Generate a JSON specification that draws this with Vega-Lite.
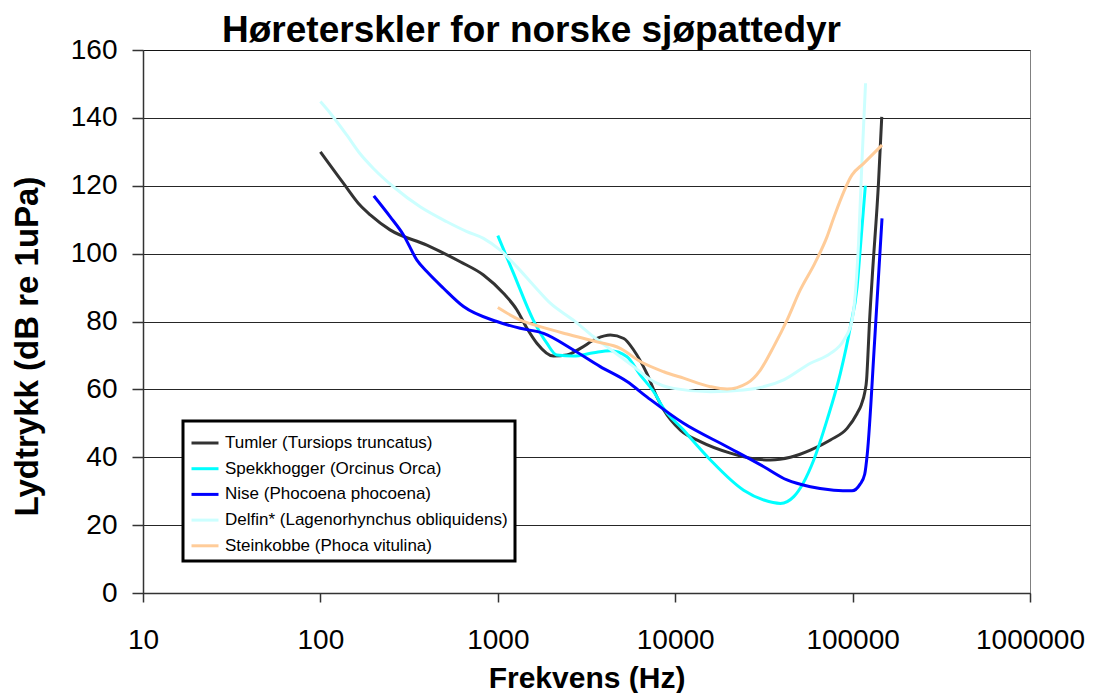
{
  "$schema": "https://vega.github.io/schema/vega-lite/v6.json",
  "width": 887,
  "height": 543,
  "autosize": {"type": "none"},
  "padding": {"left": 143, "top": 50, "right": 64, "bottom": 100},
  "background": "white",
  "title": {
    "text": "Høreterskler for norske sjøpattedyr",
    "font": "Liberation Sans",
    "fontSize": 37,
    "fontWeight": "bold",
    "color": "black",
    "anchor": "middle",
    "frame": "group",
    "dx": -55,
    "offset": -14
  },
  "data": {
    "values": [
      {"s": "Tumler (Tursiops truncatus)", "f": 100, "db": 130},
      {"s": "Tumler (Tursiops truncatus)", "f": 135, "db": 120.7},
      {"s": "Tumler (Tursiops truncatus)", "f": 167, "db": 114.3},
      {"s": "Tumler (Tursiops truncatus)", "f": 191, "db": 111.4},
      {"s": "Tumler (Tursiops truncatus)", "f": 247, "db": 107},
      {"s": "Tumler (Tursiops truncatus)", "f": 398, "db": 102.5},
      {"s": "Tumler (Tursiops truncatus)", "f": 614, "db": 97.6},
      {"s": "Tumler (Tursiops truncatus)", "f": 830, "db": 93.7},
      {"s": "Tumler (Tursiops truncatus)", "f": 1076, "db": 88.3},
      {"s": "Tumler (Tursiops truncatus)", "f": 1282, "db": 83.4},
      {"s": "Tumler (Tursiops truncatus)", "f": 1460, "db": 78},
      {"s": "Tumler (Tursiops truncatus)", "f": 1660, "db": 73.6},
      {"s": "Tumler (Tursiops truncatus)", "f": 2060, "db": 69.8},
      {"s": "Tumler (Tursiops truncatus)", "f": 2450, "db": 70.1},
      {"s": "Tumler (Tursiops truncatus)", "f": 2920, "db": 72.1},
      {"s": "Tumler (Tursiops truncatus)", "f": 3620, "db": 75},
      {"s": "Tumler (Tursiops truncatus)", "f": 4310, "db": 76},
      {"s": "Tumler (Tursiops truncatus)", "f": 5130, "db": 75},
      {"s": "Tumler (Tursiops truncatus)", "f": 5830, "db": 71.6},
      {"s": "Tumler (Tursiops truncatus)", "f": 6920, "db": 64.7},
      {"s": "Tumler (Tursiops truncatus)", "f": 7880, "db": 57.8},
      {"s": "Tumler (Tursiops truncatus)", "f": 8610, "db": 54},
      {"s": "Tumler (Tursiops truncatus)", "f": 10700, "db": 48},
      {"s": "Tumler (Tursiops truncatus)", "f": 13860, "db": 44.6},
      {"s": "Tumler (Tursiops truncatus)", "f": 20470, "db": 41.2},
      {"s": "Tumler (Tursiops truncatus)", "f": 26500, "db": 39.7},
      {"s": "Tumler (Tursiops truncatus)", "f": 34400, "db": 39.2},
      {"s": "Tumler (Tursiops truncatus)", "f": 44600, "db": 40},
      {"s": "Tumler (Tursiops truncatus)", "f": 57800, "db": 42.1},
      {"s": "Tumler (Tursiops truncatus)", "f": 75000, "db": 45.1},
      {"s": "Tumler (Tursiops truncatus)", "f": 93100, "db": 48.5},
      {"s": "Tumler (Tursiops truncatus)", "f": 106000, "db": 52.9},
      {"s": "Tumler (Tursiops truncatus)", "f": 112000, "db": 55.5},
      {"s": "Tumler (Tursiops truncatus)", "f": 117000, "db": 59},
      {"s": "Tumler (Tursiops truncatus)", "f": 120000, "db": 63},
      {"s": "Tumler (Tursiops truncatus)", "f": 122000, "db": 70},
      {"s": "Tumler (Tursiops truncatus)", "f": 124000, "db": 78},
      {"s": "Tumler (Tursiops truncatus)", "f": 129000, "db": 93},
      {"s": "Tumler (Tursiops truncatus)", "f": 140000, "db": 121},
      {"s": "Tumler (Tursiops truncatus)", "f": 146000, "db": 140.3},

      {"s": "Spekkhogger (Orcinus Orca)", "f": 1000, "db": 105.3},
      {"s": "Spekkhogger (Orcinus Orca)", "f": 1227, "db": 94.2},
      {"s": "Spekkhogger (Orcinus Orca)", "f": 1585, "db": 80.4},
      {"s": "Spekkhogger (Orcinus Orca)", "f": 1890, "db": 73.6},
      {"s": "Spekkhogger (Orcinus Orca)", "f": 2150, "db": 70.1},
      {"s": "Spekkhogger (Orcinus Orca)", "f": 2670, "db": 69.8},
      {"s": "Spekkhogger (Orcinus Orca)", "f": 3470, "db": 70.8},
      {"s": "Spekkhogger (Orcinus Orca)", "f": 4310, "db": 71.4},
      {"s": "Spekkhogger (Orcinus Orca)", "f": 5350, "db": 69.6},
      {"s": "Spekkhogger (Orcinus Orca)", "f": 6300, "db": 64.5},
      {"s": "Spekkhogger (Orcinus Orca)", "f": 7880, "db": 57.8},
      {"s": "Spekkhogger (Orcinus Orca)", "f": 8240, "db": 55.9},
      {"s": "Spekkhogger (Orcinus Orca)", "f": 11150, "db": 48},
      {"s": "Spekkhogger (Orcinus Orca)", "f": 15800, "db": 39.2},
      {"s": "Spekkhogger (Orcinus Orca)", "f": 24300, "db": 30.3},
      {"s": "Spekkhogger (Orcinus Orca)", "f": 31600, "db": 27.4},
      {"s": "Spekkhogger (Orcinus Orca)", "f": 39200, "db": 26.4},
      {"s": "Spekkhogger (Orcinus Orca)", "f": 46600, "db": 28.4},
      {"s": "Spekkhogger (Orcinus Orca)", "f": 60400, "db": 39.2},
      {"s": "Spekkhogger (Orcinus Orca)", "f": 71800, "db": 51},
      {"s": "Spekkhogger (Orcinus Orca)", "f": 85300, "db": 64.7},
      {"s": "Spekkhogger (Orcinus Orca)", "f": 97200, "db": 78.5},
      {"s": "Spekkhogger (Orcinus Orca)", "f": 106000, "db": 90.2},
      {"s": "Spekkhogger (Orcinus Orca)", "f": 110700, "db": 102},
      {"s": "Spekkhogger (Orcinus Orca)", "f": 118000, "db": 120},

      {"s": "Nise (Phocoena phocoena)", "f": 200, "db": 117},
      {"s": "Nise (Phocoena phocoena)", "f": 247, "db": 110.9},
      {"s": "Nise (Phocoena phocoena)", "f": 294, "db": 105.5},
      {"s": "Nise (Phocoena phocoena)", "f": 350, "db": 98.1},
      {"s": "Nise (Phocoena phocoena)", "f": 398, "db": 94.7},
      {"s": "Nise (Phocoena phocoena)", "f": 494, "db": 89.8},
      {"s": "Nise (Phocoena phocoena)", "f": 641, "db": 84.4},
      {"s": "Nise (Phocoena phocoena)", "f": 988, "db": 80},
      {"s": "Nise (Phocoena phocoena)", "f": 1337, "db": 78},
      {"s": "Nise (Phocoena phocoena)", "f": 1811, "db": 76.5},
      {"s": "Nise (Phocoena phocoena)", "f": 2670, "db": 71.6},
      {"s": "Nise (Phocoena phocoena)", "f": 3780, "db": 66.7},
      {"s": "Nise (Phocoena phocoena)", "f": 5350, "db": 62.3},
      {"s": "Nise (Phocoena phocoena)", "f": 6920, "db": 57.8},
      {"s": "Nise (Phocoena phocoena)", "f": 11150, "db": 50},
      {"s": "Nise (Phocoena phocoena)", "f": 19600, "db": 43.1},
      {"s": "Nise (Phocoena phocoena)", "f": 31600, "db": 37.2},
      {"s": "Nise (Phocoena phocoena)", "f": 42700, "db": 33.3},
      {"s": "Nise (Phocoena phocoena)", "f": 57800, "db": 31.3},
      {"s": "Nise (Phocoena phocoena)", "f": 78400, "db": 30.3},
      {"s": "Nise (Phocoena phocoena)", "f": 99300, "db": 30.1},
      {"s": "Nise (Phocoena phocoena)", "f": 110000, "db": 32},
      {"s": "Nise (Phocoena phocoena)", "f": 117000, "db": 35},
      {"s": "Nise (Phocoena phocoena)", "f": 121000, "db": 41},
      {"s": "Nise (Phocoena phocoena)", "f": 133000, "db": 74},
      {"s": "Nise (Phocoena phocoena)", "f": 146500, "db": 110.4},

      {"s": "Delfin* (Lagenorhynchus obliquidens)", "f": 100, "db": 144.8},
      {"s": "Delfin* (Lagenorhynchus obliquidens)", "f": 114, "db": 141.3},
      {"s": "Delfin* (Lagenorhynchus obliquidens)", "f": 141, "db": 134.9},
      {"s": "Delfin* (Lagenorhynchus obliquidens)", "f": 167, "db": 129.5},
      {"s": "Delfin* (Lagenorhynchus obliquidens)", "f": 199, "db": 125.1},
      {"s": "Delfin* (Lagenorhynchus obliquidens)", "f": 258, "db": 119.7},
      {"s": "Delfin* (Lagenorhynchus obliquidens)", "f": 365, "db": 113.8},
      {"s": "Delfin* (Lagenorhynchus obliquidens)", "f": 516, "db": 109.4},
      {"s": "Delfin* (Lagenorhynchus obliquidens)", "f": 670, "db": 106.5},
      {"s": "Delfin* (Lagenorhynchus obliquidens)", "f": 830, "db": 104.5},
      {"s": "Delfin* (Lagenorhynchus obliquidens)", "f": 1033, "db": 101},
      {"s": "Delfin* (Lagenorhynchus obliquidens)", "f": 1282, "db": 96.1},
      {"s": "Delfin* (Lagenorhynchus obliquidens)", "f": 1589, "db": 90.7},
      {"s": "Delfin* (Lagenorhynchus obliquidens)", "f": 1976, "db": 85.4},
      {"s": "Delfin* (Lagenorhynchus obliquidens)", "f": 2670, "db": 80.4},
      {"s": "Delfin* (Lagenorhynchus obliquidens)", "f": 3470, "db": 75.5},
      {"s": "Delfin* (Lagenorhynchus obliquidens)", "f": 4500, "db": 71.1},
      {"s": "Delfin* (Lagenorhynchus obliquidens)", "f": 5830, "db": 66.7},
      {"s": "Delfin* (Lagenorhynchus obliquidens)", "f": 7560, "db": 62.3},
      {"s": "Delfin* (Lagenorhynchus obliquidens)", "f": 9790, "db": 60.3},
      {"s": "Delfin* (Lagenorhynchus obliquidens)", "f": 15800, "db": 59.3},
      {"s": "Delfin* (Lagenorhynchus obliquidens)", "f": 24300, "db": 59.8},
      {"s": "Delfin* (Lagenorhynchus obliquidens)", "f": 40900, "db": 62.8},
      {"s": "Delfin* (Lagenorhynchus obliquidens)", "f": 57800, "db": 67.7},
      {"s": "Delfin* (Lagenorhynchus obliquidens)", "f": 75000, "db": 70.6},
      {"s": "Delfin* (Lagenorhynchus obliquidens)", "f": 89200, "db": 74.5},
      {"s": "Delfin* (Lagenorhynchus obliquidens)", "f": 99300, "db": 80.4},
      {"s": "Delfin* (Lagenorhynchus obliquidens)", "f": 108000, "db": 103},
      {"s": "Delfin* (Lagenorhynchus obliquidens)", "f": 113000, "db": 127.6},
      {"s": "Delfin* (Lagenorhynchus obliquidens)", "f": 118300, "db": 150.2},

      {"s": "Steinkobbe (Phoca vitulina)", "f": 1000, "db": 84.1},
      {"s": "Steinkobbe (Phoca vitulina)", "f": 1337, "db": 80.4},
      {"s": "Steinkobbe (Phoca vitulina)", "f": 1733, "db": 78.5},
      {"s": "Steinkobbe (Phoca vitulina)", "f": 2450, "db": 76.3},
      {"s": "Steinkobbe (Phoca vitulina)", "f": 3620, "db": 74},
      {"s": "Steinkobbe (Phoca vitulina)", "f": 4900, "db": 72.1},
      {"s": "Steinkobbe (Phoca vitulina)", "f": 6350, "db": 68.2},
      {"s": "Steinkobbe (Phoca vitulina)", "f": 8610, "db": 65.2},
      {"s": "Steinkobbe (Phoca vitulina)", "f": 11150, "db": 63.3},
      {"s": "Steinkobbe (Phoca vitulina)", "f": 15800, "db": 60.8},
      {"s": "Steinkobbe (Phoca vitulina)", "f": 19600, "db": 60.1},
      {"s": "Steinkobbe (Phoca vitulina)", "f": 25400, "db": 61.8},
      {"s": "Steinkobbe (Phoca vitulina)", "f": 30200, "db": 65.7},
      {"s": "Steinkobbe (Phoca vitulina)", "f": 35900, "db": 72.6},
      {"s": "Steinkobbe (Phoca vitulina)", "f": 42700, "db": 80.4},
      {"s": "Steinkobbe (Phoca vitulina)", "f": 50700, "db": 89.3},
      {"s": "Steinkobbe (Phoca vitulina)", "f": 61000, "db": 97},
      {"s": "Steinkobbe (Phoca vitulina)", "f": 71800, "db": 105},
      {"s": "Steinkobbe (Phoca vitulina)", "f": 78200, "db": 110.5},
      {"s": "Steinkobbe (Phoca vitulina)", "f": 99300, "db": 123.2},
      {"s": "Steinkobbe (Phoca vitulina)", "f": 115500, "db": 126.6},
      {"s": "Steinkobbe (Phoca vitulina)", "f": 146500, "db": 132}
    ]
  },
  "mark": {"type": "line", "strokeWidth": 3, "interpolate": "monotone"},
  "encoding": {
    "x": {
      "field": "f",
      "type": "quantitative",
      "scale": {"type": "log", "domain": [10, 1000000], "nice": false},
      "axis": {
        "title": "Frekvens (Hz)",
        "values": [10, 100, 1000, 10000, 100000, 1000000],
        "format": "d",
        "grid": false,
        "tickSize": 9,
        "labelPadding": 24,
        "titlePadding": 9,
        "labelFlush": false,
        "labelOverlap": false
      }
    },
    "y": {
      "field": "db",
      "type": "quantitative",
      "scale": {"domain": [0, 160], "nice": false},
      "axis": {
        "title": "Lydtrykk (dB re 1uPa)",
        "values": [0, 20, 40, 60, 80, 100, 120, 140, 160],
        "grid": true,
        "tickSize": 11,
        "labelPadding": 15,
        "titlePadding": 26,
        "titleFontSize": 33,
        "titleY": 296,
        "labelFlush": false
      }
    },
    "color": {
      "field": "s",
      "type": "nominal",
      "scale": {
        "domain": [
          "Tumler (Tursiops truncatus)",
          "Spekkhogger (Orcinus Orca)",
          "Nise (Phocoena phocoena)",
          "Delfin* (Lagenorhynchus obliquidens)",
          "Steinkobbe (Phoca vitulina)"
        ],
        "range": ["#333333", "#00FFFF", "#0000FF", "#CCFFFF", "#FFCC99"]
      },
      "legend": {
        "title": null,
        "orient": "none",
        "legendX": 40,
        "legendY": 371,
        "symbolType": "stroke",
        "symbolSize": 729,
        "symbolStrokeWidth": 3,
        "labelFont": "Liberation Sans",
        "labelFontSize": 17,
        "labelColor": "black",
        "labelOffset": 5,
        "labelLimit": 400,
        "rowPadding": 2.7,
        "padding": 7,
        "fillColor": "white",
        "strokeColor": "black"
      }
    }
  },
  "config": {
    "font": "Liberation Sans",
    "view": {"stroke": "#808080", "strokeWidth": 1},
    "legend": {"strokeWidth": 3},
    "axis": {
      "labelFont": "Liberation Sans",
      "labelFontSize": 28,
      "labelColor": "black",
      "titleFont": "Liberation Sans",
      "titleFontSize": 30,
      "titleFontWeight": "bold",
      "titleColor": "black",
      "domainColor": "#333333",
      "domainWidth": 1.5,
      "tickColor": "#333333",
      "tickWidth": 1.5,
      "gridColor": "#000000",
      "gridWidth": 1,
      "gridOpacity": 0.85
    }
  }
}
